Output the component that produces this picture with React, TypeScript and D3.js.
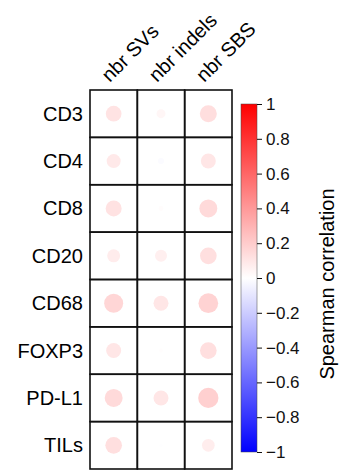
import React, { useEffect, useRef } from 'react';
import * as d3 from 'd3';

const rows = ['CD3', 'CD4', 'CD8', 'CD20', 'CD68', 'FOXP3', 'PD-L1', 'TILs'];
const cols = ['nbr SVs', 'nbr indels', 'nbr SBS'];
// spearman correlation, one array per column
const svCorr = [0.11, 0.087, 0.114, 0.075, 0.161, 0.1, 0.144, 0.124];
const indelCorr = [0.036, -0.016, 0.011, 0.064, 0.1, 0.007, 0.1, -0.004];
const sbsCorr = [0.129, 0.1, 0.144, 0.124, 0.173, 0.124, 0.183, 0.072];
const legendTicks = [1, 0.8, 0.6, 0.4, 0.2, 0, -0.2, -0.4, -0.6, -0.8, -1];

const App = () => {
  const chartRef = useRef<SVGSVGElement>(null);

  useEffect(() => {
    const svg = d3.select(chartRef.current);
    svg.selectAll('*').remove();
    const font = '"Liberation Sans", Arial, sans-serif';

    const x = d3.scaleBand().domain(cols).range([90, 232]);
    const y = d3.scaleBand().domain(rows).range([90, 469]);
    const color = d3.scaleLinear<string>().domain([-1, 0, 1]).range(['#0000ff', '#ffffff', '#ff0000']);

    const cells = [];
    rows.forEach((r, i) => {
      cells.push({ r, c: cols[0], v: svCorr[i] });
      cells.push({ r, c: cols[1], v: indelCorr[i] });
      cells.push({ r, c: cols[2], v: sbsCorr[i] });
    });

    const g = svg.append('g');

    g.selectAll('circle')
      .data(cells)
      .enter()
      .append('circle')
      .attr('cx', d => x(d.c) + x.bandwidth() / 2)
      .attr('cy', d => y(d.r) + y.bandwidth() / 2)
      .attr('r', d => Math.sqrt(Math.abs(d.v)) * x.bandwidth() / 2)
      .attr('fill', d => color(d.v));

    g.selectAll('rect.cell')
      .data(cells)
      .enter()
      .append('rect')
      .attr('class', 'cell')
      .attr('x', d => x(d.c))
      .attr('y', d => y(d.r))
      .attr('width', x.bandwidth())
      .attr('height', y.bandwidth())
      .attr('fill', 'none')
      .attr('stroke', '#111')
      .attr('stroke-width', 1.6);

    // row labels
    g.selectAll('text.row')
      .data(rows)
      .enter()
      .append('text')
      .attr('class', 'row')
      .attr('x', 83)
      .attr('y', d => y(d) + y.bandwidth() / 2)
      .attr('dy', '0.35em')
      .attr('text-anchor', 'end')
      .style('font-family', font)
      .style('font-size', '20px')
      .text(d => d);

    // column labels, rotated
    g.selectAll('text.col')
      .data(cols)
      .enter()
      .append('text')
      .attr('class', 'col')
      .attr('transform', d => `translate(${x(d) + x.bandwidth() / 2 - 4},83) rotate(-45)`)
      .style('font-family', font)
      .style('font-size', '20px')
      .text(d => d);

    // colour legend
    const defs = svg.append('defs');
    const grad = defs.append('linearGradient')
      .attr('id', 'corrGrad')
      .attr('x1', 0).attr('y1', 1).attr('x2', 0).attr('y2', 0);
    grad.append('stop').attr('offset', '0%').attr('stop-color', '#0000ff');
    grad.append('stop').attr('offset', '50%').attr('stop-color', '#ffffff');
    grad.append('stop').attr('offset', '100%').attr('stop-color', '#ff0000');

    const ly = d3.scaleLinear().domain([-1, 1]).range([452, 104]);
    svg.append('rect')
      .attr('x', 241)
      .attr('y', ly(1))
      .attr('width', 16)
      .attr('height', ly(-1) - ly(1))
      .attr('fill', 'url(#corrGrad)')
      .attr('stroke', '#444')
      .attr('stroke-width', 0.5);

    const axis = svg.append('g')
      .attr('transform', 'translate(257,0)')
      .call(d3.axisRight(ly).tickValues(legendTicks).tickSize(5).tickPadding(4)
        .tickFormat(d => d3.format('')(d).replace('-', '\u2212')));
    axis.select('.domain').remove();
    axis.selectAll('line').attr('stroke', '#111');
    axis.selectAll('text')
      .style('font-family', font)
      .style('font-size', '17px')
      .attr('fill', '#111');

    svg.append('text')
      .attr('transform', `translate(334,${(ly(1) + ly(-1)) / 2 + 6}) rotate(-90)`)
      .attr('text-anchor', 'middle')
      .style('font-family', font)
      .style('font-size', '20px')
      .text('Spearman correlation');
  }, []);

  return (
    <svg
      ref={chartRef}
      width={344}
      height={470}
      style={{ position: 'absolute', left: 0, top: 0, background: '#fff' }}
    />
  );
};

export default App;
